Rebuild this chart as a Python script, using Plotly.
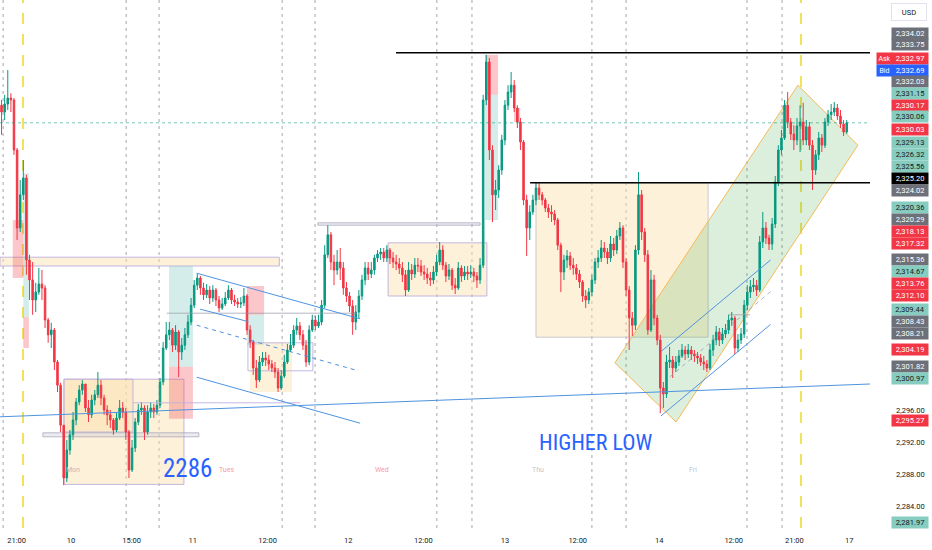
import plotly.graph_objects as go

# ---------------- data (30-min bars, price in USD) ----------------
first_open = 2334.1
close = [
    2333.25, 2334.25, 2335.0, 2334.75, 2328.5, 2318.75, 2322.9, 2325.0, 2314.75, 2312.25, 2309.75, 2310.75, 2311.75, 2311.25, 2307.25, 2305.4, 2306.0, 2302.0, 2299.1, 2294.1, 2287.5,
    2291.0, 2292.9, 2294.75, 2297.0, 2298.5, 2299.25, 2296.25, 2295.4, 2297.25, 2297.9, 2299.1, 2297.5, 2296.0, 2295.4, 2294.75, 2293.5, 2295.0, 2296.25, 2295.75, 2293.25, 2288.5, 2291.25, 2294.5, 2296.0, 2296.25, 2293.25, 2295.75, 2296.25, 2295.75, 2296.6,
    2299.5, 2303.75, 2305.4, 2306.0, 2304.1, 2305.75, 2303.25, 2304.1, 2305.4, 2307.0, 2309.1, 2311.6, 2312.5,
    2311.25, 2310.4, 2311.0, 2310.0, 2311.0, 2309.75, 2308.75, 2309.25, 2310.0, 2311.0, 2309.75, 2309.5, 2309.25, 2309.4, 2310.25, 2306.0, 2304.5,
    2301.25, 2299.75, 2302.0, 2302.5, 2302.25, 2301.75, 2301.25, 2300.75, 2298.75, 2300.25, 2302.0, 2303.5, 2304.1, 2306.0, 2306.5, 2305.4, 2304.1, 2302.0, 2306.0, 2307.25,
    2306.5, 2307.0, 2309.1, 2315.4, 2317.9, 2314.5, 2313.5, 2314.5, 2313.75, 2311.25, 2310.25, 2309.0, 2307.0, 2308.25, 2310.25, 2312.25, 2313.75, 2313.0, 2313.5, 2315.0, 2315.5, 2315.75, 2315.0, 2316.0, 2315.0, 2314.5, 2314.25, 2313.75, 2312.9, 2311.0, 2313.5, 2313.0, 2314.1, 2314.0, 2313.25, 2313.0, 2312.5, 2312.25, 2313.25, 2314.5, 2316.0, 2314.1, 2312.75, 2313.5, 2311.6, 2311.25, 2313.75, 2312.75, 2313.25, 2313.0, 2313.25, 2312.75, 2312.25, 2314.1,
    2334.75, 2339.5, 2328.5, 2322.9, 2323.5, 2326.0, 2329.75, 2334.1, 2335.75, 2336.6, 2333.75, 2332.0, 2329.5, 2322.25, 2318.75, 2320.75, 2322.25, 2323.75, 2322.9, 2322.25, 2321.25, 2320.75, 2320.5, 2319.75, 2316.6, 2313.25, 2314.75, 2315.25, 2314.1, 2313.75, 2313.0, 2312.0, 2310.25, 2309.75, 2310.75, 2312.25,
    2314.5, 2315.0, 2316.25, 2315.75, 2315.0, 2316.75, 2316.0, 2317.75, 2318.75, 2314.5, 2311.0, 2307.5, 2306.6, 2316.0, 2322.9, 2318.25, 2315.4, 2306.0, 2312.25, 2307.5, 2304.75, 2298.75, 2298.0, 2302.0, 2302.25,
    2301.25, 2302.0, 2302.75, 2303.5, 2303.0, 2303.5, 2303.0, 2302.75, 2302.5, 2302.0, 2301.75, 2301.25, 2303.5, 2304.75, 2305.75, 2304.75, 2305.5, 2306.0, 2307.25, 2307.5, 2303.75, 2304.75, 2305.5, 2309.1, 2310.75, 2311.4, 2311.6, 2311.0, 2317.0, 2318.75,
    2317.5, 2316.75, 2319.25, 2324.5, 2328.5, 2330.0, 2334.1, 2332.0, 2330.5, 2329.75, 2331.5, 2332.0, 2329.75, 2331.4, 2329.1, 2326.0, 2327.9, 2330.0, 2329.1, 2332.0, 2332.9, 2333.25, 2333.75, 2332.75, 2331.75, 2330.75, 2331.9,
]
high = [
    2334.75, 2335.4, 2338.5, 2335.6, 2335.0, 2328.75, 2324.75, 2327.25, 2325.4, 2315.4, 2314.5, 2311.9, 2313.75, 2313.5, 2311.6, 2307.5, 2306.9, 2306.25, 2302.25, 2299.4, 2294.1,
    2292.25, 2293.5, 2295.75, 2297.5, 2299.1, 2299.75, 2299.25, 2297.25, 2297.9, 2298.5, 2300.75, 2299.75, 2297.9, 2296.6, 2296.0, 2295.0, 2295.75, 2297.25, 2297.0, 2296.25, 2293.5, 2292.25, 2295.0, 2296.75, 2297.0, 2296.6, 2296.6, 2297.0, 2296.75, 2297.25,
    2300.0, 2304.5, 2307.0, 2307.0, 2306.25, 2306.6, 2306.0, 2305.0, 2306.25, 2307.9, 2310.0, 2312.25, 2313.1,
    2312.75, 2311.9, 2311.75, 2311.5, 2311.6, 2311.25, 2310.25, 2310.0, 2310.75, 2311.6, 2311.25, 2310.4, 2310.0, 2310.1, 2311.25, 2310.5, 2306.6,
    2304.75, 2302.25, 2302.75, 2303.25, 2303.25, 2302.9, 2302.25, 2302.0, 2301.25, 2301.0, 2302.9, 2304.25, 2305.5, 2306.6, 2307.5, 2307.0, 2306.0, 2304.75, 2306.6, 2307.9,
    2307.75, 2307.9, 2309.75, 2316.6, 2319.1, 2318.25, 2315.4, 2316.0, 2316.25, 2314.5, 2312.0, 2310.75, 2309.75, 2309.1, 2311.0, 2312.9, 2314.5, 2314.5, 2314.5, 2315.4, 2316.0, 2316.25, 2316.25, 2316.6, 2316.25, 2315.75, 2315.4, 2315.0, 2314.5, 2313.5, 2314.5, 2314.25, 2315.0, 2315.0, 2314.75, 2314.1, 2313.75, 2313.25, 2314.0, 2315.4, 2317.0, 2316.6, 2314.5, 2314.25, 2313.75, 2312.5, 2314.5, 2314.1, 2314.0, 2314.0, 2314.1, 2313.75, 2313.25, 2315.0,
    2335.4, 2340.4, 2340.0, 2329.1, 2324.75, 2326.6, 2330.4, 2334.75, 2336.6, 2338.25, 2337.25, 2334.1, 2332.5, 2329.75, 2322.9, 2321.6, 2322.9, 2324.4, 2324.4, 2323.25, 2322.5, 2321.75, 2321.6, 2321.0, 2320.0, 2316.9, 2315.4, 2316.0, 2315.75, 2315.0, 2314.25, 2313.5, 2312.25, 2311.0, 2311.25, 2312.9,
    2315.0, 2316.0, 2317.25, 2317.0, 2316.25, 2317.75, 2317.5, 2318.5, 2319.5, 2319.1, 2315.0, 2311.5, 2308.25, 2316.6, 2325.75, 2323.5, 2318.75, 2316.0, 2313.5, 2312.9, 2307.9, 2305.4, 2299.5, 2302.9, 2303.9,
    2302.75, 2302.75, 2303.5, 2304.25, 2304.0, 2304.25, 2304.0, 2303.5, 2303.25, 2303.0, 2302.75, 2302.25, 2304.25, 2305.4, 2306.5, 2306.25, 2306.25, 2306.75, 2307.9, 2308.25, 2307.75, 2305.5, 2306.25, 2309.75, 2311.6, 2312.25, 2312.5, 2312.25, 2317.75, 2320.75,
    2319.5, 2317.9, 2320.0, 2325.25, 2329.1, 2331.0, 2334.75, 2335.75, 2332.5, 2331.6, 2332.5, 2334.1, 2334.4, 2332.25, 2332.0, 2329.75, 2328.5, 2330.75, 2330.5, 2332.5, 2333.5, 2334.25, 2334.5, 2334.25, 2333.5, 2332.25, 2332.25,
]
low = [
    2330.4, 2332.25, 2333.5, 2333.25, 2327.9, 2317.25, 2318.25, 2322.25, 2312.9, 2309.75, 2307.9, 2308.25, 2310.4, 2309.75, 2306.25, 2304.4, 2303.75, 2301.0, 2298.25, 2293.25, 2286.6,
    2287.0, 2290.4, 2292.25, 2294.1, 2296.6, 2297.9, 2295.75, 2294.5, 2295.0, 2296.6, 2297.5, 2296.6, 2295.4, 2294.1, 2293.75, 2292.9, 2293.25, 2294.75, 2295.0, 2292.25, 2287.5, 2288.25, 2290.75, 2294.1, 2295.4, 2292.25, 2292.9, 2295.0, 2295.0, 2295.4,
    2296.25, 2299.1, 2303.5, 2304.75, 2303.25, 2303.5, 2300.1, 2302.25, 2303.5, 2305.0, 2306.6, 2308.75, 2311.0,
    2310.4, 2309.75, 2310.0, 2309.25, 2309.5, 2309.0, 2308.25, 2308.5, 2309.0, 2309.75, 2309.25, 2309.0, 2308.75, 2308.75, 2309.0, 2305.4, 2303.75,
    2300.4, 2298.75, 2299.5, 2301.5, 2301.5, 2301.0, 2300.75, 2300.0, 2298.25, 2298.5, 2300.0, 2301.75, 2303.25, 2303.75, 2305.4, 2304.75, 2303.5, 2301.4, 2301.6, 2305.75,
    2306.0, 2306.25, 2306.6, 2308.75, 2315.0, 2313.5, 2311.6, 2312.9, 2312.25, 2310.4, 2309.5, 2308.25, 2305.4, 2306.0, 2307.5, 2309.75, 2311.6, 2312.25, 2312.5, 2312.9, 2314.5, 2314.75, 2314.5, 2314.5, 2314.25, 2313.75, 2313.5, 2313.0, 2312.0, 2310.25, 2310.75, 2312.25, 2312.5, 2313.25, 2312.75, 2312.25, 2311.75, 2311.5, 2311.75, 2312.75, 2314.1, 2313.5, 2312.0, 2312.25, 2311.0, 2310.5, 2311.0, 2312.0, 2312.25, 2312.25, 2312.5, 2312.0, 2311.25, 2311.75,
    2313.75, 2334.1, 2327.25, 2319.5, 2321.0, 2322.5, 2325.4, 2329.1, 2333.5, 2335.0, 2333.25, 2331.25, 2328.5, 2321.6, 2315.25, 2317.25, 2320.4, 2321.6, 2322.25, 2321.6, 2320.75, 2320.0, 2319.5, 2319.1, 2316.0, 2310.75, 2312.25, 2313.75, 2313.5, 2312.9, 2312.25, 2311.25, 2309.5, 2308.75, 2309.25, 2310.25,
    2311.75, 2313.75, 2314.5, 2315.0, 2314.25, 2314.5, 2315.25, 2315.5, 2317.25, 2313.75, 2310.25, 2303.5, 2305.25, 2306.0, 2315.4, 2317.25, 2314.5, 2305.4, 2305.75, 2306.6, 2304.1, 2295.6, 2296.25, 2297.5, 2301.25,
    2300.0, 2300.75, 2301.5, 2302.5, 2302.25, 2302.5, 2302.25, 2302.0, 2301.75, 2301.5, 2301.0, 2300.75, 2301.0, 2302.75, 2304.1, 2304.0, 2304.25, 2305.0, 2305.5, 2306.5, 2303.0, 2303.25, 2304.25, 2305.0, 2308.5, 2310.0, 2310.75, 2310.25, 2310.75, 2316.25,
    2316.75, 2316.0, 2316.0, 2318.75, 2324.0, 2327.9, 2329.75, 2331.25, 2329.75, 2328.5, 2329.1, 2328.25, 2329.1, 2329.1, 2328.5, 2323.5, 2325.4, 2327.25, 2328.25, 2328.75, 2331.5, 2332.25, 2332.75, 2332.25, 2331.25, 2330.25, 2330.5,
]

tick_pos = [5.37, 22.85, 42.39, 62.02, 86.16, 112.1, 136.24, 162.54, 185.94, 212.2, 236.15, 255.65, 273.35]
tick_text = ["21:00", "10", "15:00", "11", "12:00", "12", "12:00", "13", "12:00", "14", "12:00", "21:00", "17"]
session_lines = [1.0, 40.6, 51.2, 90.8, 101.4, 140.6, 151.9, 190.5, 201.5, 240.4, 251.7]
week_lines = [7.4, 257.8]
price_ticks = [2284, 2288, 2292, 2296]

# price scale labels (stacked on the right axis)
label_text = ["2,334.02", "2,333.75", "2,332.97", "2,332.69", "2,332.03", "2,331.15", "2,330.17", "2,330.06",
              "2,330.03", "2,329.13", "2,326.32", "2,325.56", "2,325.20", "2,324.02", "2,320.36", "2,320.29",
              "2,318.13", "2,317.32", "2,315.36", "2,314.67", "2,313.76", "2,312.10", "2,309.44", "2,308.43",
              "2,308.21", "2,304.19", "2,301.82", "2,300.97", "2,295.27", "2,281.97"]
label_kind = ["g", "g", "r", "b", "g", "t", "r", "t", "r", "t", "t", "t", "k", "g", "t", "g",
              "r", "r", "g", "t", "r", "r", "t", "g", "g", "r", "g", "t", "r", "t"]
label_py = [33, 45, 58, 70, 81, 93, 105, 117, 129, 142, 154, 166, 178, 190, 207, 219,
            231, 243, 259, 271, 283, 295, 309, 321, 333, 349, 366, 378, 420, 522]

# ---------------- figure ----------------
n = len(close)
x = [i + 0.5 for i in range(n)]
opens = [first_open] + close[:-1]
highs = [max(h, o, c) for h, o, c in zip(high, opens, close)]
lows = [min(l, o, c) for l, o, c in zip(low, opens, close)]

GREEN = "#089981"
RED = "#f23645"
fig = go.Figure(go.Candlestick(
    x=x, open=opens, high=highs, low=lows, close=close,
    increasing=dict(line=dict(color=GREEN, width=1), fillcolor=GREEN),
    decreasing=dict(line=dict(color=RED, width=1), fillcolor=RED),
    whiskerwidth=0, hoverinfo="skip"))

BEIGE = "rgba(250,225,170,0.45)"
LAV = "rgba(190,175,222,0.9)"
TEAL = "rgba(120,200,190,0.32)"
PINK = "rgba(242,54,69,0.28)"
BLUE = "#4f93e0"
GREYL = "rgba(150,150,165,0.7)"
NONE = "rgba(0,0,0,0)"

shapes = []


def rect(x0, x1, y0, y1, fill, line=NONE, w=1):
    shapes.append(dict(type="rect", xref="x", yref="y", x0=x0, x1=x1, y0=y0, y1=y1,
                       fillcolor=fill, line=dict(color=line, width=w), layer="below"))


def seg(x0, y0, x1, y1, color, w=1, dash="solid", layer="above"):
    shapes.append(dict(type="line", xref="x", yref="y", x0=x0, y0=y0, x1=x1, y1=y1,
                       line=dict(color=color, width=w, dash=dash), layer=layer))


for sx in session_lines:
    shapes.append(dict(type="line", xref="x", yref="paper", x0=sx, x1=sx, y0=0, y1=1,
                       line=dict(color="#a3a6af", width=1, dash="3px,4px"), layer="below"))
for wx in week_lines:
    shapes.append(dict(type="line", xref="x", yref="paper", x0=wx, x1=wx, y0=0, y1=1,
                       line=dict(color="rgba(240,220,60,0.85)", width=2, dash="11px,10px"), layer="below"))

# zones / boxes
rect(0, 89.9, 2314.0, 2315.1, BEIGE, LAV)
rect(20.6, 59.2, 2286.7, 2299.85, BEIGE, LAV)
rect(20.6, 42.8, 2293.25, 2299.85, BEIGE, LAV)
rect(13.8, 64.0, 2292.65, 2293.15, "rgba(200,200,215,0.35)", "rgba(170,170,190,0.8)")
rect(54.4, 62.1, 2301.4, 2314.0, TEAL)
rect(54.4, 62.1, 2294.9, 2301.4, PINK)
rect(4.1, 7.5, 2312.5, 2319.75, PINK)
rect(7.5, 9.3, 2307.6, 2325.6, TEAL)
rect(7.5, 9.3, 2303.75, 2307.6, PINK)
rect(79.5, 85.0, 2307.9, 2311.5, PINK)
rect(79.5, 85.0, 2304.1, 2307.9, TEAL)
rect(80.5, 94.0, 2298.25, 2304.4, BEIGE)
rect(79.8, 100.7, 2300.9, 2304.4, NONE, LAV)
rect(124.9, 156.7, 2310.25, 2316.9, BEIGE, LAV)
rect(102.3, 154.5, 2319.1, 2319.4, "rgba(200,200,215,0.3)", "rgba(170,170,190,0.8)")
rect(156.1, 160.3, 2335.4, 2340.4, PINK)
rect(156.1, 160.3, 2319.75, 2335.4, TEAL)
rect(165.4, 167.4, 2332.0, 2333.75, PINK)
rect(172.5, 227.9, 2305.1, 2324.4, BEIGE, "rgba(190,190,200,0.8)")
shapes.append(dict(type="path", xref="x", yref="y",
                   path="M 197.9,2301.9 L 256.8,2336.6 L 276.1,2329.1 L 217.6,2294.5 Z",
                   fillcolor="rgba(76,175,80,0.2)", line=dict(color="#f7b955", width=1), layer="below"))

seg(42.8, 2296.9, 96.6, 2296.9, LAV)
seg(53.7, 2308.1, 114.9, 2308.1, GREYL)
seg(234.3, 2307.9, 241.4, 2307.9, GREYL)

# trend lines
seg(0, 2295.15, 280, 2299.25, BLUE)
seg(63.3, 2313.1, 115.9, 2307.4, BLUE)
seg(64.4, 2308.6, 79.9, 2307.05, BLUE)
seg(63.3, 2306.6, 115.3, 2300.9, BLUE, dash="4px,4px")
seg(63.3, 2300.1, 115.9, 2294.35, BLUE)
seg(212.7, 2303.3, 248.0, 2314.75, BLUE)
seg(212.7, 2295.25, 248.0, 2306.7, BLUE)
seg(215.6, 2300.15, 248.0, 2310.8, "rgba(150,160,180,0.8)", dash="4px,4px")

# horizontal levels
seg(0, close[-1], 280, close[-1], "rgba(8,153,129,0.55)", 1, "dot")
seg(127.45, 2340.65, 280, 2340.65, "#000000", 1.6)
seg(170.6, 2324.4, 280, 2324.4, "#000000", 1.6)

annotations = []
NARROW = "Liberation Sans Narrow, Roboto Condensed, Arial Narrow, sans-serif"
annotations.append(dict(x=60.5, y=2288.75, xref="x", yref="y", text="2286", showarrow=False,
                        font=dict(family=NARROW, size=25, color="#2962ff")))
annotations.append(dict(x=191.5, y=2292.0, xref="x", yref="y", text="HIGHER LOW", showarrow=False,
                        font=dict(family=NARROW, size=22, color="#2962ff")))
for txt, dx, col in [("Mon", 23.4, "#c8b4b8"), ("Tues", 73.0, "#f59aa3"), ("Wed", 123.0, "#f59aa3"),
                     ("Thu", 173.3, "#c3c6cc"), ("Fri", 223.1, "#c3c6cc")]:
    annotations.append(dict(x=dx, y=2288.5, xref="x", yref="y", text=txt, showarrow=False,
                            font=dict(family="Roboto, Arial", size=7, color=col)))

kind_style = {"g": ("#6d7079", "#ffffff"), "t": ("#86cdbf", "#131722"), "r": ("#f23645", "#ffffff"),
              "b": ("#2962ff", "#ffffff"), "k": ("#000000", "#ffffff")}
PH = 528.0
for txt, kd, py in zip(label_text, label_kind, label_py):
    bg, fg = kind_style[kd]
    annotations.append(dict(x=910.5 / 870, y=1 - py / PH, xref="paper", yref="paper", text=txt,
                            showarrow=False, xanchor="center", yanchor="middle", width=36, height=11,
                            bgcolor=bg, borderpad=0, font=dict(family="Roboto, Arial", size=7.5, color=fg)))
for txt, py, bg in [("Ask", 58, "#f23645"), ("Bid", 70, "#2962ff")]:
    annotations.append(dict(x=884.0 / 870, y=1 - py / PH, xref="paper", yref="paper", text=txt,
                            showarrow=False, xanchor="center", yanchor="middle", width=15, height=11,
                            bgcolor=bg, borderpad=0, font=dict(family="Roboto, Arial", size=7, color="#ffffff")))
annotations.append(dict(x=909 / 870, y=1 - 12 / PH, xref="paper", yref="paper", text="USD",
                        showarrow=False, xanchor="center", yanchor="middle", width=34, height=16,
                        bgcolor="#ffffff", bordercolor="#e0e3eb", borderwidth=1, borderpad=0,
                        font=dict(family="Roboto, Arial", size=7.5, color="#131722")))

fig.update_layout(
    width=932, height=550, margin=dict(l=0, r=62, t=0, b=22),
    paper_bgcolor="white", plot_bgcolor="white", showlegend=False,
    shapes=shapes, annotations=annotations,
    xaxis=dict(range=[0, 280], rangeslider=dict(visible=False), tickmode="array",
               tickvals=tick_pos, ticktext=tick_text, showgrid=False, zeroline=False, ticks="",
               showline=False, ticklabelstandoff=6,
               tickfont=dict(family="Roboto, Arial", size=7.5, color="#131722")),
    yaxis=dict(side="right", range=[2281.25, 2347.25], tickmode="array", tickvals=price_ticks,
               ticktext=[f"{v:,.2f}" for v in price_ticks], showgrid=False, zeroline=False,
               ticks="", showline=False, ticklabelstandoff=25,
               tickfont=dict(family="Roboto, Arial", size=7.5, color="#131722")),
)

fig.write_html("out.html", config={"displayModeBar": False},
               post_script="document.body.style.margin='0px';document.body.style.overflow='hidden';")
